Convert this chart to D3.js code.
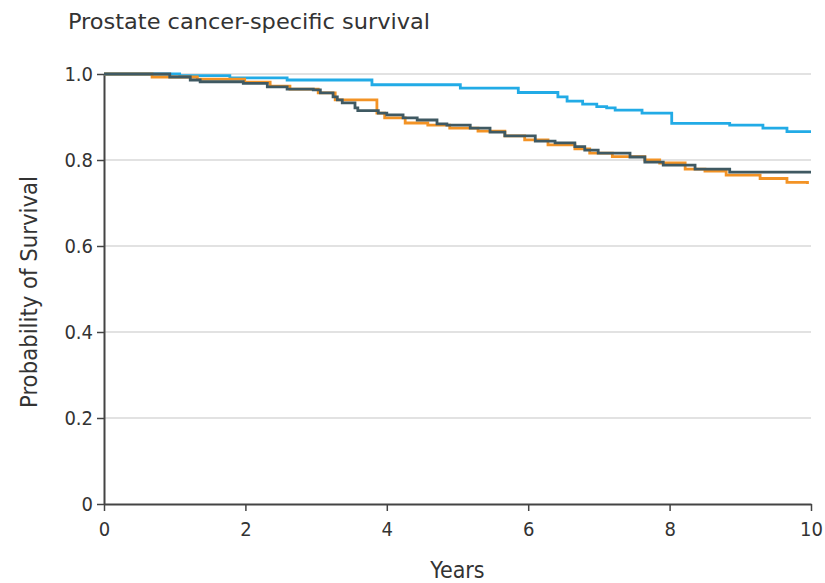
<!DOCTYPE html>
<html>
<head>
<meta charset="utf-8">
<script src="https://cdn.jsdelivr.net/npm/d3@7"></script>
<style>
  body { margin: 0; background: #fff; }
  svg text { font-family: "Liberation Sans Narrow", "DejaVu Sans Condensed", "Roboto Condensed", sans-serif; fill: #333; }
</style>
</head>
<body>
<svg id="chart" width="825" height="583"></svg>
<script>
// Kaplan-Meier steps (years, survival)
var blueYears = [0, 1.07, 1.78, 2.59, 3.79, 5.04, 5.86, 6.42, 6.55, 6.77, 6.97, 7.11, 7.23, 7.61, 8.03, 8.85, 9.32, 9.66, 10];
var blueSurv  = [1.0, 0.996, 0.991, 0.986, 0.975, 0.967, 0.957, 0.947, 0.937, 0.930, 0.924, 0.921, 0.916, 0.909, 0.885, 0.881, 0.874, 0.866, 0.866];

var orangeYears = [0, 0.68, 1.32, 1.99, 2.35, 2.63, 3.03, 3.27, 3.86, 3.97, 4.26, 4.58, 4.89, 5.29, 5.67, 5.95, 6.28, 6.66, 6.87, 7.19, 7.65, 7.86, 8.22, 8.50, 8.80, 9.28, 9.66, 9.95];
var orangeSurv  = [1.0, 0.993, 0.988, 0.981, 0.972, 0.965, 0.956, 0.940, 0.909, 0.898, 0.886, 0.881, 0.874, 0.867, 0.856, 0.847, 0.835, 0.826, 0.816, 0.808, 0.800, 0.793, 0.779, 0.774, 0.765, 0.757, 0.748, 0.744];

var darkYears = [0, 0.93, 1.22, 1.36, 1.97, 2.31, 2.59, 2.96, 3.06, 3.24, 3.30, 3.37, 3.55, 3.59, 3.88, 4.00, 4.23, 4.43, 4.71, 4.85, 5.18, 5.46, 5.67, 6.10, 6.38, 6.66, 6.80, 6.99, 7.44, 7.65, 7.91, 8.36, 8.85, 10];
var darkSurv  = [1.0, 0.993, 0.986, 0.982, 0.978, 0.970, 0.965, 0.963, 0.956, 0.947, 0.940, 0.933, 0.921, 0.915, 0.909, 0.905, 0.898, 0.893, 0.884, 0.881, 0.874, 0.865, 0.856, 0.844, 0.840, 0.831, 0.823, 0.816, 0.807, 0.795, 0.788, 0.779, 0.772, 0.772];

var xTicks = [0, 2, 4, 6, 8, 10];
var yTicks = [0, 0.2, 0.4, 0.6, 0.8, 1.0];

var svg = d3.select("#chart");

var x = d3.scaleLinear().domain([0, 10]).range([104, 811]);
var y = d3.scaleLinear().domain([0, 1]).range([504, 74]);

// title
svg.append("text")
    .attr("x", 68)
    .attr("y", 29)
    .attr("textLength", 362)
    .attr("lengthAdjust", "spacingAndGlyphs")
    .style("font-size", "22px")
    .text("Prostate cancer-specific survival");

// grid
svg.append("g")
    .selectAll("line")
    .data(yTicks.filter(function(d) { return d > 0; }))
    .enter()
    .append("line")
    .attr("x1", x(0))
    .attr("x2", x(10))
    .attr("y1", function(d) { return y(d); })
    .attr("y2", function(d) { return y(d); })
    .style("stroke", "#d9d9d9")
    .style("stroke-width", 1.5);

// axes
var xAxis = d3.axisBottom(x).tickValues(xTicks).tickFormat(d3.format("d")).tickSize(7).tickSizeOuter(0);
var yAxis = d3.axisLeft(y).tickValues(yTicks)
    .tickFormat(function(d) { return d === 0 ? "0" : d3.format(".1f")(d); })
    .tickSize(7).tickSizeOuter(0);

var gx = svg.append("g").attr("transform", "translate(0," + y(0) + ")").call(xAxis);
var gy = svg.append("g").attr("transform", "translate(" + x(0) + ",0)").call(yAxis);

[gx, gy].forEach(function(g) {
  g.select(".domain").style("stroke", "#444").style("stroke-width", 2);
  g.selectAll(".tick line").style("stroke", "#444").style("stroke-width", 1.5);
  g.selectAll(".tick text").style("font-size", "20px").style("fill", "#333");
});
gx.selectAll(".tick text").attr("dy", "1.1em");
gy.selectAll(".tick text").attr("x", -11);

// axis titles
svg.append("text")
    .attr("x", (x(0) + x(10)) / 2)
    .attr("y", 578)
    .attr("text-anchor", "middle")
    .style("font-size", "23px")
    .text("Years");

svg.append("text")
    .attr("transform", "translate(37," + 292 + ") rotate(-90)")
    .attr("text-anchor", "middle")
    .attr("textLength", 232)
    .attr("lengthAdjust", "spacingAndGlyphs")
    .style("font-size", "23px")
    .text("Probability of Survival");

// curves
var line = d3.line()
    .x(function(d) { return x(d[0]); })
    .y(function(d) { return y(d[1]); })
    .curve(d3.curveStepAfter);

var series = [
  { years: blueYears, surv: blueSurv, color: "#22abe6" },
  { years: orangeYears, surv: orangeSurv, color: "#f39325" },
  { years: darkYears, surv: darkSurv, color: "#3f5962" }
];

series.forEach(function(s) {
  var pts = d3.zip(s.years, s.surv);
  svg.append("path")
      .datum(pts)
      .attr("d", line)
      .style("fill", "none")
      .style("stroke", s.color)
      .style("stroke-width", 2.8);
});
</script>
</body>
</html>
